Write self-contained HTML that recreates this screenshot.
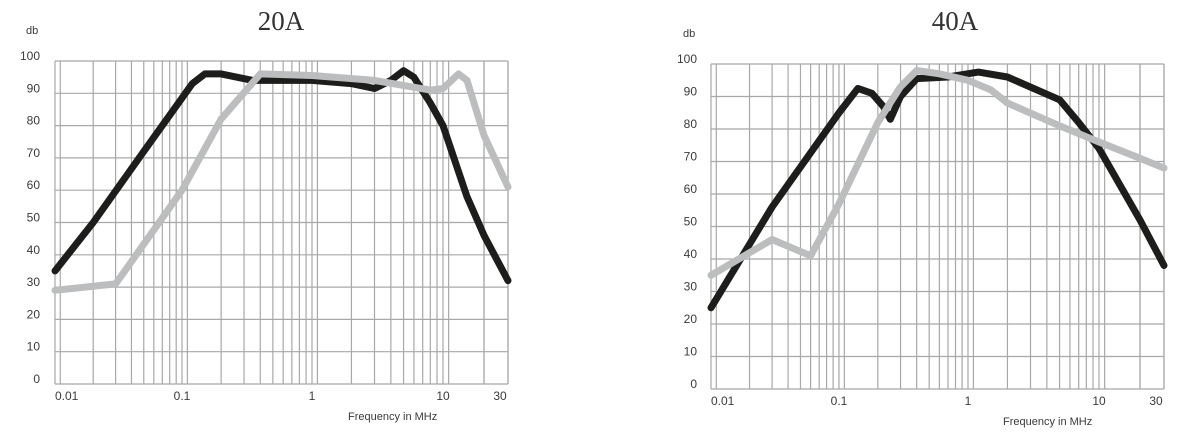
<!DOCTYPE html>
<html><head><meta charset="utf-8"><style>
html,body{margin:0;padding:0;background:#fff;}
svg{display:block;font-family:"Liberation Sans",sans-serif;}
</style></head><body>
<svg id="s" width="1203" height="445" viewBox="0 0 1203 445"></svg>
<script>
const yTicks=[0,10,20,30,40,50,60,70,80,90,100];
const xTickVals=[0.01,0.1,1,10,30];
const xTickLabels=["0.01","0.1","1","10","30"];
const c20_blackF=[0.01,0.02,0.05,0.12,0.15,0.2,0.35,1,2,3,4,5,6,8,10,15,20,30];
const c20_blackV=[35,50,72,93,96,96,94,94,93,91.5,94,97,95,87,80,58,46,32];
const c20_grayF=[0.01,0.03,0.1,0.2,0.4,1,3,8,10,13,15,20,30];
const c20_grayV=[29,31,60,82,96,95.5,94,91,91.5,96,94,77,61];
const c40_blackF=[0.01,0.03,0.1,0.14,0.18,0.22,0.25,0.3,0.4,0.7,1.2,2,5,7,10,20,30];
const c40_blackV=[25,56,85,92.5,91,87,83,90,95.5,96,97.5,96,89,82,74,52,38];
const c40_grayF=[0.01,0.03,0.06,0.1,0.2,0.3,0.4,0.6,1,1.5,2,5,10,20,30];
const c40_grayV=[35,46,41,57,82,93,98,97,95,92,88,81,76,71,68];

const NS="http://www.w3.org/2000/svg";
const svg=document.getElementById('s');
function mk(t,a,p){const e=document.createElementNS(NS,t);for(const k in a)e.setAttribute(k,a[k]);(p||svg).appendChild(e);return e;}

function chart(cfg){
  const g=mk('g',{});
  
  
  const anchorsF=[0.01,0.1,1,10,30];
  const X=f=>{for(let i=0;i<anchorsF.length-1;i++){const a=anchorsF[i],b=anchorsF[i+1];if(f<=b||i==anchorsF.length-2){const t=Math.log(f/a)/Math.log(b/a);return cfg.ax[i]+t*(cfg.ax[i+1]-cfg.ax[i]);}}};
  const Y=v=>cfg.bottom-(v/100)*(cfg.bottom-cfg.top);
  const L=cfg.ax[0],R=cfg.ax[4];
  const grid=mk('g',{stroke:'#a8a8a8','stroke-width':1.2},g);
  
  
  yTicks.forEach(v=>{mk('line',{x1:L,x2:R,y1:Y(v),y2:Y(v)},grid);});
  const vf=[];
  [0.01,0.1,1,10].forEach(d=>{for(let m=1;m<=9;m++){const f=d*m;if(f<=30)vf.push(f);}vf.push(d*1.1);});
  vf.push(20,30);
  vf.forEach(f=>{if(f<=30)mk('line',{x1:X(f),x2:X(f),y1:cfg.top,y2:cfg.bottom},grid);});
  yTicks.forEach(v=>{const t=mk('text',{x:cfg.ylx,y:Y(v)-1,'text-anchor':'end','font-size':12,fill:'#3a3a3a'},g);t.textContent=v;
    });
  xTickVals.forEach((f,i)=>{const t=mk('text',{x:X(f)+(i==0?0:(i==4?-8:0)),y:cfg.bottom+16,'text-anchor':i==0?'start':'middle','font-size':12,fill:'#3a3a3a'},g);t.textContent=xTickLabels[i];
    });
  const db=mk('text',{x:cfg.ylx-14,y:cfg.top-27,'font-size':11,fill:'#3a3a3a'},g);db.textContent='db';
  
  const xt=mk('text',{x:cfg.xtx,y:cfg.bottom+36,'font-size':11,fill:'#3a3a3a'},g);xt.textContent='Frequency in MHz';
  
  const tt=mk('text',{x:cfg.tx,y:30,'text-anchor':'middle','font-size':27,fill:'#333','font-family':'Liberation Serif, serif'},g);tt.textContent=cfg.title;
  
  const line=(F,V,col,nm)=>{const p=mk('polyline',{points:F.map((f,i)=>X(f).toFixed(1)+','+Y(V[i]).toFixed(1)).join(' '),fill:'none',stroke:col,'stroke-width':7,'stroke-linejoin':'round','stroke-linecap':'round'},g);
    };
  line(cfg.bF,cfg.bV,'#1d1d1b','black-series-line');
  line(cfg.gF,cfg.gV,'#bcbdbf','gray-series-line');
}
chart({name:'chart-20a',title:'20A',ax:[55,182,312,443,508],top:61,bottom:384,ylx:40,xtx:348,tx:281,
  bF:c20_blackF,bV:c20_blackV,gF:c20_grayF,gV:c20_grayV});
chart({name:'chart-40a',title:'40A',ax:[711,839,968,1099,1164],top:64,bottom:389,ylx:697,xtx:1003,tx:955,
  bF:c40_blackF,bV:c40_blackV,gF:c40_grayF,gV:c40_grayV});
</script>
</body></html>
